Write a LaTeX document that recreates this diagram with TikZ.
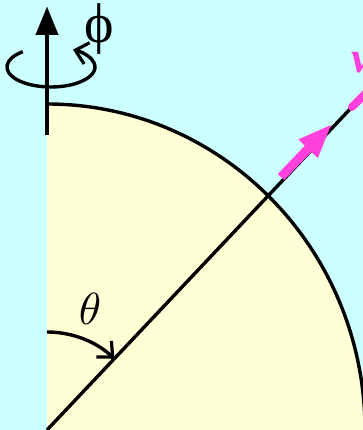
\documentclass[tikz,border=0pt]{standalone}
\usepackage{graphicx}
\usepackage{fontspec}
\setmainfont{Liberation Serif}
\usetikzlibrary{arrows.meta,calc}
\definecolor{bgc}{HTML}{CCFFFF}
\definecolor{sph}{HTML}{FFFFD5}
\definecolor{pinkc}{HTML}{FF40DC}
\begin{document}
\begin{tikzpicture}[x=1pt,y=1pt,
  thickline/.style={line width=3.4pt, black},
  barb/.style={-{Straight Barb[length=12pt,width=22pt,line width=3.2pt]}}]
\useasboundingbox (0,0) rectangle (363,430);
\fill[bgc] (0,0) rectangle (363,430);
\coordinate (O) at (47,0);
\coordinate (P) at (47,326);
\coordinate (E) at (352,323);
\coordinate (E2) at (374,345);
\begin{scope}
\clip (0,0) rectangle (363,430);
\fill[sph] (O) -- (P) arc[start angle=90,end angle=0,x radius=318,y radius=326] -- cycle;
\draw[thickline] (P) arc[start angle=90,end angle=0,x radius=318,y radius=326];
\draw[thickline] (O) -- (E);
\draw[pinkc, line width=8pt, line cap=round] (E) -- (E2);
\node[font=\fontsize{44}{50}\selectfont\bfseries\itshape, text=pinkc, inner sep=0, anchor=base west] (v) at (351,357) {v};
\end{scope}
% axis
\coordinate (A0) at (47,295);
\coordinate (A1) at (47,423);
\draw[thickline, -{Triangle[length=28pt,width=23pt,line width=0.1pt]}] (A0) -- (A1);
% rotation arrow
\coordinate (RC) at (51,363);
\draw[thickline, barb] ($(RC)+(130:44 and 20)$) arc[start angle=130,end angle=420,x radius=44,y radius=20];
% theta arc
\draw[thickline, barb] ($(O)+(0,98)$) arc[start angle=90,end angle=46.6,radius=98];
% pink arrow
\coordinate (s1) at (277.8,256.1);
\coordinate (b1) at (304.9,284.3);
\coordinate (h1) at (298.4,290.6);
\coordinate (T)  at (331,305);
\coordinate (h2) at (317.8,271.8);
\coordinate (b2) at (311.3,278.1);
\coordinate (s2) at (284.2,249.9);
\fill[pinkc] (s1) -- (b1) -- (h1) -- (T) -- (h2) -- (b2) -- (s2) -- cycle;
% labels
\node[font=\fontsize{56}{58}\selectfont, inner sep=0] (phi) at (99,401) {ϕ};
\node[inner sep=0] (th) at (90,121) {\scalebox{4.5}{$\theta$}};
\end{tikzpicture}
\end{document}
